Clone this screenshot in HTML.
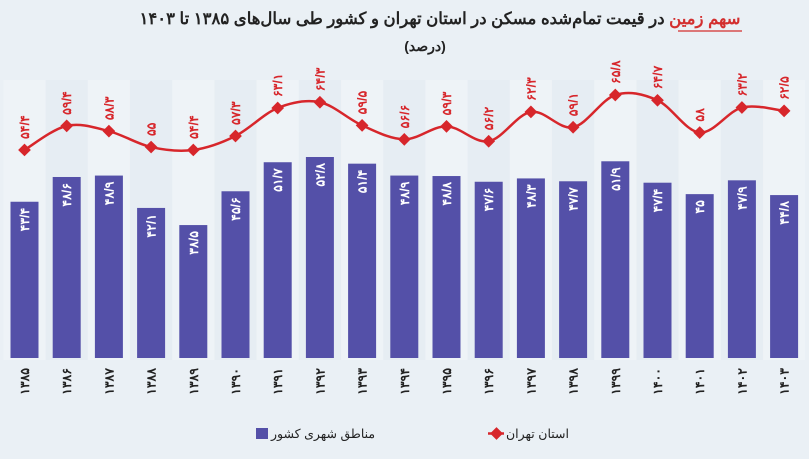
<!DOCTYPE html>
<html><head><meta charset="utf-8">
<style>
body{margin:0;background:#fff;}
#wrap{width:809px;height:459px;position:relative;overflow:hidden;background:#eaf0f5;font-family:"Liberation Sans","Noto Sans CJK SC",sans-serif;}
svg{position:absolute;left:0;top:0;}
</style></head><body>
<div id="wrap">
<svg id="chart" width="809" height="459"></svg>
</div>
<script>
const years=["1385","1386","1387","1388","1389","1390","1391","1392","1393","1394","1395","1396","1397","1398","1399","1400","1401","1402","1403"];
const barVals=[43.4,48.6,48.9,42.1,38.5,45.6,51.7,52.8,51.4,48.9,48.8,47.6,48.3,47.7,51.9,47.4,45,47.9,44.8];
const lineVals=[54.4,59.4,58.3,55,54.4,57.3,63.1,64.3,59.5,56.6,59.3,56.2,62.3,59.1,65.8,64.7,58,63.2,62.5];

const NS="http://www.w3.org/2000/svg";
const svg=document.getElementById('chart');
function fa(s){return String(s).replace(/\d/g,d=>"۰۱۲۳۴۵۶۷۸۹"[d]).replace(/\./g,"/");}
function mk(t,a,p){const e=document.createElementNS(NS,t);for(const k in a)e.setAttribute(k,a[k]);(p||svg).appendChild(e);return e;}
const x=i=>24.5+i*42.2;
const yb=v=>157+(52.8-v)*4.76;
const yl=v=>95+(65.8-v)*4.82;
const base=358;

for(let i=0;i<years.length;i++){
  const s=mk('rect',{x:x(i)-21,y:80,width:42,height:280,fill:i%2?'#e6edf3':'#eef3f7'});
  
  
}
const t=mk('text',{x:440,y:24,'text-anchor':'middle','font-size':16.5,'font-weight':'bold',fill:'#222'});


t.innerHTML='<tspan fill="#d32f2f">سهم زمین</tspan> در قیمت تمام‌شده مسکن در استان تهران و کشور طی سال‌های ۱۳۸۵ تا ۱۴۰۳';
const ul=mk('line',{x1:678,y1:31,x2:742,y2:31,stroke:'#d32f2f','stroke-width':1.2});


const st=mk('text',{x:425,y:51,'text-anchor':'middle','font-size':14,'font-weight':'bold',fill:'#222'});


st.textContent='(درصد)';

barVals.forEach((v,i)=>{
  const r=mk('rect',{x:x(i)-14,y:yb(v),width:28,height:base-yb(v),fill:'#5450a8'});
  
  
  const tx=x(i)+4.5, ty=yb(v)+6;
  const l=mk('text',{x:tx,y:ty,'font-size':12.5,'font-weight':'bold',fill:'#fff','text-anchor':'end',transform:`rotate(-90 ${tx} ${ty})`});
  
  
  l.textContent=fa(v);
  const xl=x(i)+4.5, yl2=368;
  const yt=mk('text',{x:xl,y:yl2,'font-size':12.5,'font-weight':'bold',fill:'#222','text-anchor':'end',transform:`rotate(-90 ${xl} ${yl2})`});
  
  
  yt.textContent=fa(years[i]);
});

let d='';
const pts=lineVals.map((v,i)=>[x(i),yl(v)]);
pts.forEach((p,i)=>{
  if(i===0){d+=`M${p[0]},${p[1]}`;return;}
  const p0=pts[i-1],pm=pts[i-2]||p0,pn=pts[i+1]||p;
  const c1=[p0[0]+(p[0]-pm[0])/6,p0[1]+(p[1]-pm[1])/6];
  const c2=[p[0]-(pn[0]-p0[0])/6,p[1]-(pn[1]-p0[1])/6];
  d+=`C${c1[0]},${c1[1]} ${c2[0]},${c2[1]} ${p[0]},${p[1]}`;
});
const ln=mk('path',{d:d,fill:'none',stroke:'#d7262b','stroke-width':2.5});


pts.forEach((p,i)=>{
  const m=mk('rect',{x:p[0]-4.5,y:p[1]-4.5,width:9,height:9,fill:'#d7262b',transform:`rotate(45 ${p[0]} ${p[1]})`});
  
  
  const tx=p[0]+4.5, ty=p[1]-11;
  const l=mk('text',{x:tx,y:ty,'font-size':12.5,'font-weight':'bold',fill:'#d7262b','text-anchor':'start',transform:`rotate(-90 ${tx} ${ty})`});
  
  
  l.textContent=fa(lineVals[i]);
});

const lg1=mk('rect',{x:256,y:428,width:12,height:11,fill:'#5450a8'});


const lt1=mk('text',{x:271,y:438,'font-size':12.5,fill:'#222','text-anchor':'start'});


lt1.textContent='مناطق شهری کشور';
const lg2=mk('rect',{x:492,y:429,width:9,height:9,fill:'#d7262b',transform:'rotate(45 496.5 433.5)'});


mk('line',{x1:488,y1:433.5,x2:504,y2:433.5,stroke:'#d7262b','stroke-width':2.5});
const lt2=mk('text',{x:506,y:438,'font-size':12.5,fill:'#222','text-anchor':'start'});


lt2.textContent='استان تهران';
</script>
</body></html>
